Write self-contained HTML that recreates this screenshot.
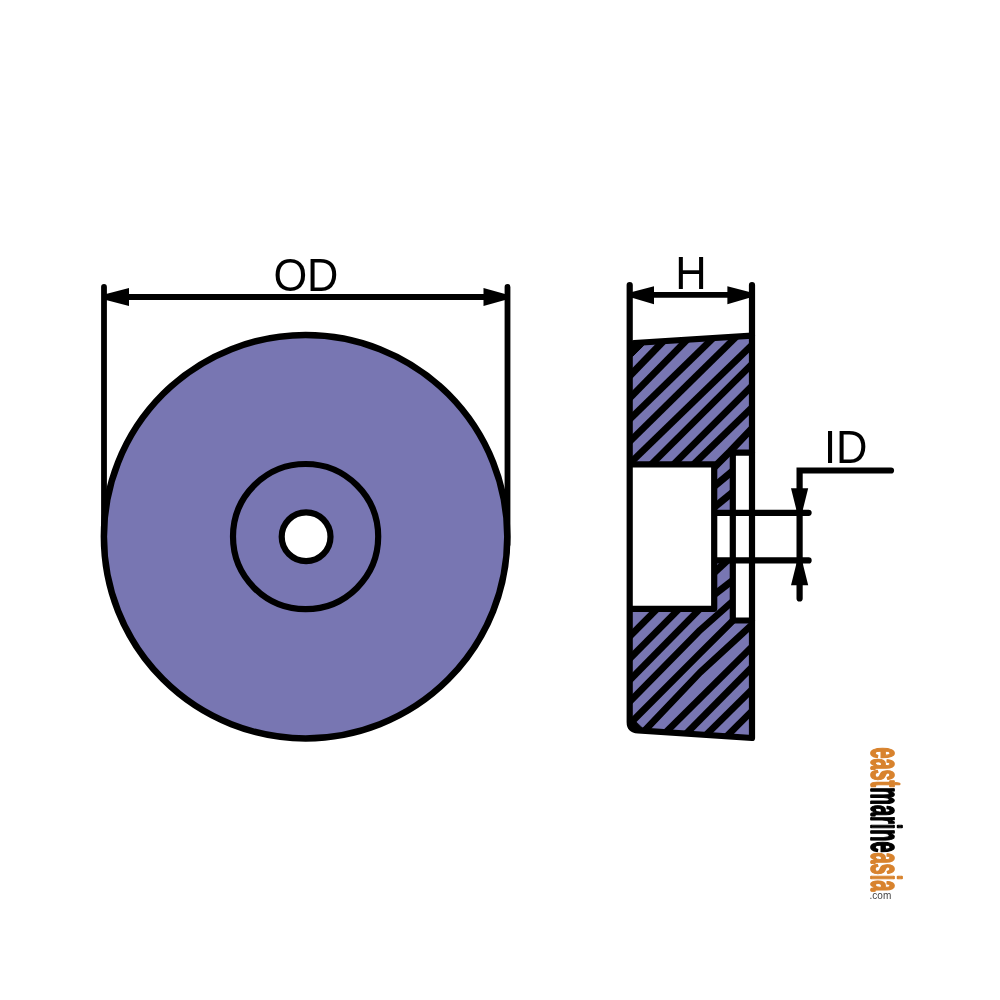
<!DOCTYPE html>
<html><head><meta charset="utf-8">
<style>
html,body{margin:0;padding:0;background:#fff;}
body{width:1000px;height:1000px;overflow:hidden;font-family:"Liberation Sans",sans-serif;}
svg{display:block;will-change:transform;}
text{font-family:"Liberation Sans",sans-serif;}
</style></head><body>
<svg width="1000" height="1000" viewBox="0 0 1000 1000">
<defs>
<clipPath id="body"><polygon points="629.7,343.2 752,335.6 752,738 638,730.4 631.5,727.5 629.7,722"/></clipPath>
</defs>

<!-- FRONT VIEW -->
<g stroke="#000" stroke-width="5.8" fill="none" stroke-linecap="round">
<line x1="104" y1="287" x2="104" y2="542"/>
<line x1="507.5" y1="287" x2="507.5" y2="545"/>
</g>
<circle cx="305.6" cy="536.7" r="201.7" fill="#7876b2" stroke="#000" stroke-width="6.5"/>
<circle cx="305.6" cy="536.6" r="72.6" fill="none" stroke="#000" stroke-width="6.2"/>
<circle cx="306.1" cy="536.7" r="24.4" fill="#fff" stroke="#000" stroke-width="6.2"/>
<!-- OD arrow -->
<line x1="104" y1="297" x2="507" y2="297" stroke="#000" stroke-width="6"/>
<polygon points="106,294 129,288 129,306 106,300" fill="#000"/>
<polygon points="505,294 483.5,288 483.5,306 505,300" fill="#000"/>
<text transform="translate(273.4,290.9) scale(0.952,1)" font-size="45.5" fill="#000">OD</text>

<!-- SIDE VIEW -->
<polygon points="629.7,343.2 752,335.6 752,738 638,730.4 631.5,727.5 629.7,722" fill="#7876b2"/>
<g clip-path="url(#body)" stroke="#000" fill="none" stroke-linejoin="round">
<polyline points="626.5,379.3 667.1,337.3" stroke-width="7.2"/>
<polyline points="626.5,401.4 690.2,336.5" stroke-width="6.8"/>
<polyline points="626.4,422.6 714.4,336.7" stroke-width="6.8"/>
<polyline points="626.4,444.7 737.9,335.1" stroke-width="6.8"/>
<polyline points="626.3,466.8 755.4,341.7" stroke-width="6.8"/>
<polyline points="648.1,467.6 755.3,360.8" stroke-width="6.8"/>
<polyline points="669.6,468.4 755.3,382.6" stroke-width="6.8"/>
<polyline points="689.6,468.3 755.3,404.2" stroke-width="6.8"/>
<polyline points="707.6,473.9 730.0,451.5 755.2,425.0" stroke-width="7.2"/>
<polyline points="710.1,489.8 736.9,467.4" stroke-width="7.2"/>
<polyline points="710.0,510.7 737.0,488.8" stroke-width="7.2"/>
<polyline points="710.4,576.1 736.6,551.9" stroke-width="7.2"/>
<polyline points="709.9,598.0 737.1,577.0" stroke-width="7.2"/>
<polyline points="626.5,639.7 660.3,605.6" stroke-width="6.8"/>
<polyline points="626.5,661.9 682.3,605.6" stroke-width="6.8"/>
<polyline points="626.5,683.4 703.1,605.6" stroke-width="6.8"/>
<polyline points="626.5,705.0 700.0,630.2 736.4,598.0" stroke-width="6.8"/>
<polyline points="626.5,727.2 700.0,653.3 739.4,614.2" stroke-width="6.8"/>
<polyline points="643.0,732.3 700.0,672.5 755.5,621.5" stroke-width="6.8"/>
<polyline points="664.2,733.9 755.3,643.5" stroke-width="6.8"/>
<polyline points="684.2,735.7 755.2,663.8" stroke-width="6.8"/>
<polyline points="702.6,738.3 755.3,686.2" stroke-width="6.8"/>
<polyline points="723.6,739.4 755.3,707.7" stroke-width="6.8"/>
</g>
<!-- white cutouts -->
<rect x="629.6" y="464.4" width="84.6" height="144.4" fill="#fff"/>
<rect x="714.2" y="512.7" width="38" height="47.8" fill="#fff"/>
<rect x="732.8" y="452.7" width="19.2" height="167.8" fill="#fff"/>
<!-- outlines -->
<g stroke="#000" stroke-width="6.2" fill="none" stroke-linecap="round" stroke-linejoin="round">
<path d="M629.7 285 L629.7 722 Q629.7 730 638 730.4 L752 738 L752 285"/>
<path d="M632.5 346 L632.5 356.5 L643.5 345.6 Z" fill="#000" stroke-width="1"/>
<path d="M632.5 719 L632.5 727.5 L642 728 Z" fill="#000" stroke-width="1"/>
<path d="M631.5 345 L634 343 L752 335.6"/>
<path d="M631 464.4 L714.2 464.4 L714.2 608.8 L631 608.8"/>
<path d="M732.8 452.7 L752 452.7 M732.8 452.7 L732.8 620.5 L752 620.5"/>
<path d="M716 512.8 L808.6 512.8 M716 560.4 L808.6 560.4"/>
<!-- ID leader -->
<path d="M891 470.5 L799.6 470.5 L799.6 598.4" stroke-linejoin="miter"/>
</g>
<polygon points="796.6,510.5 791,488.3 808.2,488.3 802.6,510.5" fill="#000"/>
<polygon points="796.6,562.8 791,585.3 808.2,585.3 802.6,562.8" fill="#000"/>
<text transform="translate(823.9,463.2) scale(0.952,1)" font-size="45.7" fill="#000">ID</text>
<!-- H arrow -->
<line x1="630" y1="294.9" x2="752" y2="294.9" stroke="#000" stroke-width="5.9"/>
<polygon points="632,292 654,286.2 654,304.2 632,297.8" fill="#000"/>
<polygon points="749.5,292 727.4,286.2 727.4,304.2 749.5,297.8" fill="#000"/>
<text transform="translate(675.2,288.8) scale(0.952,1)" font-size="45.7" fill="#000">H</text>

<!-- LOGO -->
<g transform="translate(871,747.4) rotate(90) scale(0.463,1)" font-weight="bold" font-size="43" stroke-width="1.4" stroke-linejoin="round">
<text x="0" y="0" style="vector-effect:non-scaling-stroke"><tspan fill="#d8832e" stroke="#d8832e" style="vector-effect:non-scaling-stroke">east</tspan><tspan fill="#000" stroke="#000" style="vector-effect:non-scaling-stroke">marine</tspan><tspan fill="#d8832e" stroke="#d8832e" style="vector-effect:non-scaling-stroke">asia</tspan></text>
</g>
<text x="869.6" y="899.4" font-size="10" fill="#444">.com</text>
</svg>
</body></html>
